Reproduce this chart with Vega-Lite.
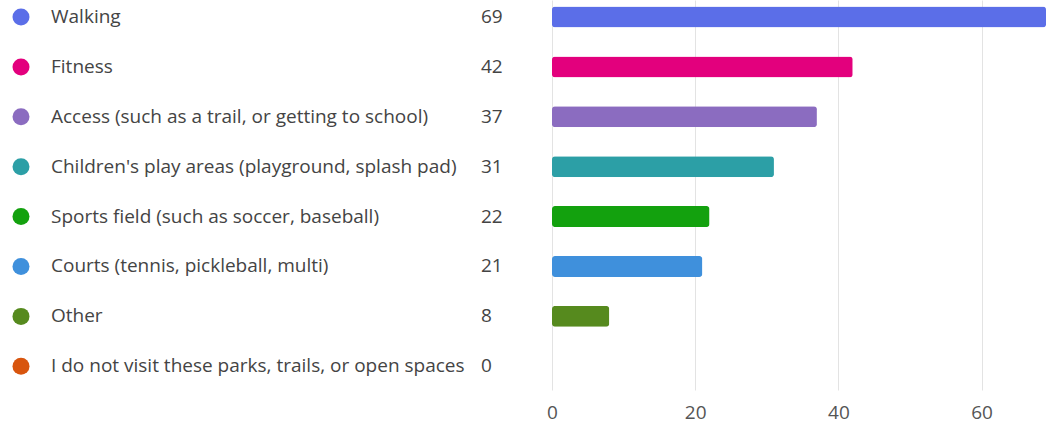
{
  "$schema": "https://vega.github.io/schema/vega-lite/v6.json",
  "padding": {"left": 0, "top": 0, "right": 0, "bottom": 12},
  "autosize": {"type": "pad"},
  "background": "white",
  "config": {"view": {"stroke": null}, "concat": {"spacing": 6}},
  "data": {"values": [
    {"option": "Walking", "count": 69},
    {"option": "Fitness", "count": 42},
    {"option": "Access (such as a trail, or getting to school)", "count": 37},
    {"option": "Children's play areas (playground, splash pad)", "count": 31},
    {"option": "Sports field (such as soccer, baseball)", "count": 22},
    {"option": "Courts (tennis, pickleball, multi)", "count": 21},
    {"option": "Other", "count": 8},
    {"option": "I do not visit these parks, trails, or open spaces", "count": 0}
  ]},
  "hconcat": [
    {
      "width": 540,
      "height": 390,
      "encoding": {
        "y": {"field": "option", "type": "nominal", "sort": null, "axis": null,
              "scale": {"type": "band", "paddingInner": 0.58, "paddingOuter": 0.198, "align": 0.33}}
      },
      "layer": [
        {
          "mark": {"type": "point", "shape": "circle", "filled": true, "opacity": 1, "size": 289},
          "encoding": {
            "x": {"datum": 21, "type": "quantitative", "scale": {"domain": [0, 540], "nice": false}, "axis": null},
            "color": {"field": "option", "type": "nominal", "sort": null, "legend": null,
                      "scale": {"range": ["#5b6ee8", "#e3007d", "#8b6cc0", "#2c9fa6", "#13a10e", "#3f90dc", "#568a1e", "#d8550e"]}}
          }
        },
        {
          "mark": {"type": "text", "align": "left", "baseline": "middle", "font": "Open Sans", "fontSize": 19, "color": "#444444"},
          "encoding": {
            "x": {"datum": 51, "type": "quantitative"},
            "text": {"field": "option"}
          }
        },
        {
          "mark": {"type": "text", "align": "left", "baseline": "middle", "font": "Open Sans", "fontSize": 19, "color": "#444444"},
          "encoding": {
            "x": {"datum": 481, "type": "quantitative"},
            "text": {"field": "count"}
          }
        }
      ]
    },
    {
      "width": 494,
      "height": 390,
      "mark": {"type": "bar", "cornerRadius": 3},
      "encoding": {
        "y": {"field": "option", "type": "nominal", "sort": null, "axis": null,
              "scale": {"type": "band", "paddingInner": 0.58, "paddingOuter": 0.198, "align": 0.33}},
        "x": {"field": "count", "type": "quantitative",
              "scale": {"domain": [0, 69], "nice": false},
              "axis": {"title": null, "values": [0, 20, 40, 60], "domain": false, "ticks": false,
                       "gridColor": "#e3e3e3", "labelFont": "Open Sans", "labelFontSize": 19,
                       "labelFlush": false, "labelOverlap": false,
                       "labelColor": "#555555", "labelPadding": 13}},
        "color": {"field": "option", "type": "nominal", "sort": null, "legend": null,
                  "scale": {"range": ["#5b6ee8", "#e3007d", "#8b6cc0", "#2c9fa6", "#13a10e", "#3f90dc", "#568a1e", "#d8550e"]}}
      }
    }
  ]
}
